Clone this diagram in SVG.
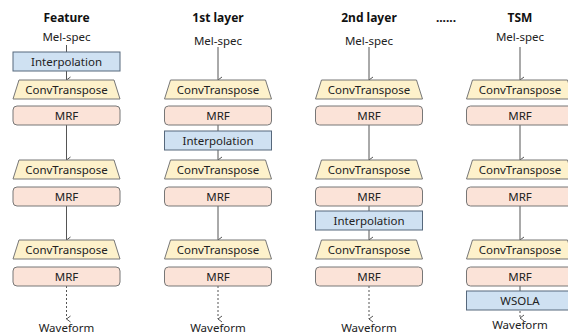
<svg xmlns="http://www.w3.org/2000/svg" width="568" height="334" viewBox="0 0 568 334">
  <style>
    text { font-family: "Noto Sans", "Open Sans", "Liberation Sans", sans-serif; font-size: 11.5px; fill: #222; text-anchor: middle; }
    .title { font-weight: bold; font-size: 12px; fill: #111; }
    .interp { fill: #cfe1f2; stroke: #56687c; stroke-width: 1; }
    .conv { fill: #fdf1cb; stroke: #777; stroke-width: 1; }
    .mrf { fill: #fbe3d8; stroke: #777; stroke-width: 1; }
    .link { stroke: #555; stroke-width: 1; fill: none; }
    .dash { stroke-dasharray: 2 2; }
  </style>
  <defs>
    <marker id="arr" viewBox="0 0 8 8" refX="4" refY="7" markerWidth="8" markerHeight="8" markerUnits="userSpaceOnUse" orient="auto-start-reverse">
      <path d="M1,3 L4,7 L7,3" fill="none" stroke="#555" stroke-width="1"/>
    </marker>
    <!-- building blocks, drawn around x=0 -->
    <rect id="interpBox" class="interp" x="-53.5" y="0" width="107" height="19"/>
    <polygon id="convBox" class="conv" points="-47.5,0 47.5,0 53.5,19 -53.5,19"/>
    <rect id="mrfBox" class="mrf" x="-53.5" y="0" width="107" height="19" rx="4"/>
  </defs>

  <!-- titles -->
  <g id="titles">
    <text class="title" x="66.5" y="22">Feature</text>
    <text class="title" x="218" y="22">1st layer</text>
    <text class="title" x="369" y="22">2nd layer</text>
    <text class="title" x="446" y="22">......</text>
    <text class="title" x="520" y="22">TSM</text>
  </g>

  <!-- connectors -->
  <g id="connectors">
    <!-- Feature column -->
    <line class="link" x1="66.5" y1="45" x2="66.5" y2="52"/>
    <line class="link" x1="66.5" y1="71" x2="66.5" y2="80" marker-end="url(#arr)"/>
    <line class="link" x1="66.5" y1="125" x2="66.5" y2="160" marker-end="url(#arr)"/>
    <line class="link" x1="66.5" y1="206" x2="66.5" y2="240" marker-end="url(#arr)"/>
    <line class="link dash" x1="66.5" y1="286" x2="66.5" y2="319" marker-end="url(#arr)"/>
    <!-- 1st layer column -->
    <line class="link" x1="218" y1="47" x2="218" y2="80" marker-end="url(#arr)"/>
    <line class="link" x1="218" y1="125" x2="218" y2="131"/>
    <line class="link" x1="218" y1="150" x2="218" y2="160" marker-end="url(#arr)"/>
    <line class="link" x1="218" y1="206" x2="218" y2="240" marker-end="url(#arr)"/>
    <line class="link dash" x1="218" y1="286" x2="218" y2="319" marker-end="url(#arr)"/>
    <!-- 2nd layer column -->
    <line class="link" x1="369" y1="47" x2="369" y2="80" marker-end="url(#arr)"/>
    <line class="link" x1="369" y1="125" x2="369" y2="160" marker-end="url(#arr)"/>
    <line class="link" x1="369" y1="206" x2="369" y2="211"/>
    <line class="link" x1="369" y1="230" x2="369" y2="240" marker-end="url(#arr)"/>
    <line class="link dash" x1="369" y1="286" x2="369" y2="319" marker-end="url(#arr)"/>
    <!-- TSM column -->
    <line class="link" x1="520" y1="47" x2="520" y2="80" marker-end="url(#arr)"/>
    <line class="link" x1="520" y1="125" x2="520" y2="160" marker-end="url(#arr)"/>
    <line class="link" x1="520" y1="206" x2="520" y2="240" marker-end="url(#arr)"/>
    <line class="link" x1="520" y1="286" x2="520" y2="291"/>
    <line class="link dash" x1="520" y1="311" x2="520" y2="318" marker-end="url(#arr)"/>
  </g>

  <!-- Feature column -->
  <g id="feature">
    <text x="66.5" y="41">Mel-spec</text>
    <g id="f-interp"><use href="#interpBox" x="66.5" y="52"/><text x="66.5" y="65.5">Interpolation</text></g>
    <g id="f-conv1"><use href="#convBox" x="66.5" y="80"/><text x="66.5" y="93.5">ConvTranspose</text></g>
    <g id="f-mrf1"><use href="#mrfBox" x="66.5" y="106"/><text x="66.5" y="119.5">MRF</text></g>
    <g id="f-conv2"><use href="#convBox" x="66.5" y="160"/><text x="66.5" y="173.5">ConvTranspose</text></g>
    <g id="f-mrf2"><use href="#mrfBox" x="66.5" y="187"/><text x="66.5" y="200.5">MRF</text></g>
    <g id="f-conv3"><use href="#convBox" x="66.5" y="240"/><text x="66.5" y="253.5">ConvTranspose</text></g>
    <g id="f-mrf3"><use href="#mrfBox" x="66.5" y="267"/><text x="66.5" y="280.5">MRF</text></g>
    <text x="66.5" y="332">Waveform</text>
  </g>

  <!-- 1st layer column -->
  <g id="layer1">
    <text x="218" y="45">Mel-spec</text>
    <g id="l1-conv1"><use href="#convBox" x="218" y="80"/><text x="218" y="93.5">ConvTranspose</text></g>
    <g id="l1-mrf1"><use href="#mrfBox" x="218" y="106"/><text x="218" y="119.5">MRF</text></g>
    <g id="l1-interp"><use href="#interpBox" x="218" y="131"/><text x="218" y="144.5">Interpolation</text></g>
    <g id="l1-conv2"><use href="#convBox" x="218" y="160"/><text x="218" y="173.5">ConvTranspose</text></g>
    <g id="l1-mrf2"><use href="#mrfBox" x="218" y="187"/><text x="218" y="200.5">MRF</text></g>
    <g id="l1-conv3"><use href="#convBox" x="218" y="240"/><text x="218" y="253.5">ConvTranspose</text></g>
    <g id="l1-mrf3"><use href="#mrfBox" x="218" y="267"/><text x="218" y="280.5">MRF</text></g>
    <text x="218" y="332">Waveform</text>
  </g>

  <!-- 2nd layer column -->
  <g id="layer2">
    <text x="369" y="45">Mel-spec</text>
    <g id="l2-conv1"><use href="#convBox" x="369" y="80"/><text x="369" y="93.5">ConvTranspose</text></g>
    <g id="l2-mrf1"><use href="#mrfBox" x="369" y="106"/><text x="369" y="119.5">MRF</text></g>
    <g id="l2-conv2"><use href="#convBox" x="369" y="160"/><text x="369" y="173.5">ConvTranspose</text></g>
    <g id="l2-mrf2"><use href="#mrfBox" x="369" y="187"/><text x="369" y="200.5">MRF</text></g>
    <g id="l2-interp"><use href="#interpBox" x="369" y="211"/><text x="369" y="224.5">Interpolation</text></g>
    <g id="l2-conv3"><use href="#convBox" x="369" y="240"/><text x="369" y="253.5">ConvTranspose</text></g>
    <g id="l2-mrf3"><use href="#mrfBox" x="369" y="267"/><text x="369" y="280.5">MRF</text></g>
    <text x="369" y="332">Waveform</text>
  </g>

  <!-- TSM column -->
  <g id="tsm">
    <text x="520" y="41">Mel-spec</text>
    <g id="t-conv1"><use href="#convBox" x="520" y="80"/><text x="520" y="93.5">ConvTranspose</text></g>
    <g id="t-mrf1"><use href="#mrfBox" x="520" y="106"/><text x="520" y="119.5">MRF</text></g>
    <g id="t-conv2"><use href="#convBox" x="520" y="160"/><text x="520" y="173.5">ConvTranspose</text></g>
    <g id="t-mrf2"><use href="#mrfBox" x="520" y="187"/><text x="520" y="200.5">MRF</text></g>
    <g id="t-conv3"><use href="#convBox" x="520" y="240"/><text x="520" y="253.5">ConvTranspose</text></g>
    <g id="t-mrf3"><use href="#mrfBox" x="520" y="267"/><text x="520" y="280.5">MRF</text></g>
    <g id="t-wsola"><use href="#interpBox" x="520" y="291"/><text x="520" y="305">WSOLA</text></g>
    <text x="520" y="329">Waveform</text>
  </g>
</svg>
